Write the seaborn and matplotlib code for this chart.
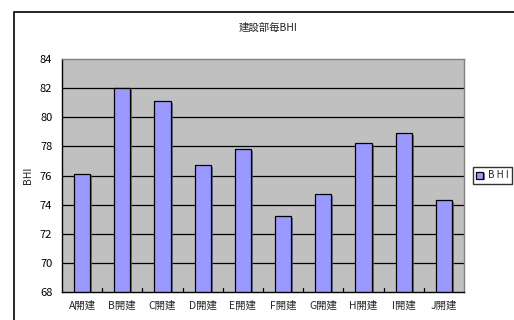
import matplotlib
matplotlib.use('Agg')
import matplotlib.pyplot as plt
import matplotlib.patheffects as pe
from matplotlib.patches import Rectangle
import seaborn as sns
import pandas as pd

sns.set_style('white')
plt.rcParams['font.family'] = ['Noto Sans CJK JP', 'DejaVu Sans']

# データ
categories = ['A開建', 'B開建', 'C開建', 'D開建', 'E開建', 'F開建', 'G開建', 'H開建', 'I開建', 'J開建']
bhi = [76.1, 82.0, 81.1, 76.7, 77.8, 73.2, 74.7, 78.2, 78.9, 74.3]
yticks = [68, 70, 72, 74, 76, 78, 80, 82, 84]

df = pd.DataFrame({'部署': categories, 'BHI': bhi})

fig = plt.figure(figsize=(5.14, 3.2), dpi=100)
ax = fig.add_axes([62/514, 1 - 292/320, 402/514, 233/320])
ax.set_facecolor('#C0C0C0')

# 横グリッド
for y in yticks[1:-1]:
    ax.axhline(y, color='black', lw=0.9, zorder=1)

sns.barplot(data=df, x='部署', y='BHI', color='#9999FF', width=0.4,
            edgecolor='black', linewidth=0.9, saturation=1, ax=ax, zorder=2,
            label='B H I')
for p in ax.patches:
    p.set_path_effects([pe.SimplePatchShadow(offset=(1.5, -1), shadow_rgbFace='#555577', alpha=0.8), pe.Normal()])

ax.set_ylim(68, 84)
ax.set_xlim(-0.5, 9.5)
ax.set_yticks(yticks)
ax.set_yticklabels([str(v) for v in yticks], fontsize=8)
ax.set_xticks(range(len(categories)))
ax.set_xticklabels(categories, fontsize=7.5)
ax.tick_params(axis='x', length=0, pad=6)
ax.tick_params(axis='y', length=4, width=0.9, direction='in', pad=7, colors='black')
# 区切り目盛り
for x in [i + 0.5 for i in range(9)]:
    ax.plot([x, x], [68, 68.3], color='black', lw=0.9, zorder=3, clip_on=False)

for side in ['left', 'bottom']:
    ax.spines[side].set_color('black')
    ax.spines[side].set_linewidth(1)
for side in ['top', 'right']:
    ax.spines[side].set_color('#808080')
    ax.spines[side].set_linewidth(1)

ax.set_xlabel('')
ax.set_ylabel('BHI', fontsize=7.5, labelpad=5)

ax.legend(loc='center left', bbox_to_anchor=(1.022, 0.5), fontsize=7,
          frameon=True, fancybox=False, edgecolor='black', handlelength=0.7,
          handleheight=0.7, handletextpad=0.5, borderpad=0.35, borderaxespad=0)

fig.text(268/514, 1 - 28/320, '建設部毎BHI', ha='center', va='center', fontsize=7.5)

fig.add_artist(Rectangle((14/514, -0.1), 1, 1 - 12/320 + 0.1, fill=False,
                         edgecolor='black', lw=1.2, transform=fig.transFigure))

fig.savefig('out.png', dpi=100)
